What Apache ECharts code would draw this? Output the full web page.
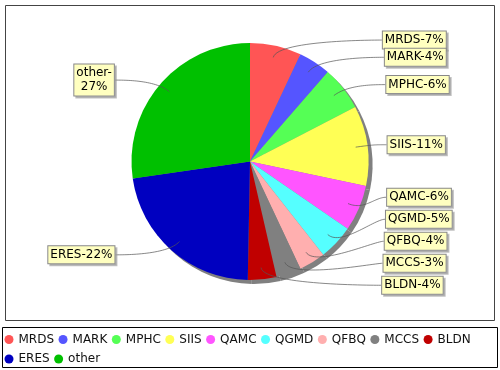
<!DOCTYPE html>
<html><head><meta charset="utf-8">
<script src="https://cdn.jsdelivr.net/npm/echarts@6/dist/echarts.min.js"></script>
<style>html,body{margin:0;padding:0;background:#fff}#c{width:500px;height:370px}</style>
</head><body><div id="c"></div>
<script>
// ---- data ----
const categories = ['MRDS','MARK','MPHC','SIIS','QAMC','QGMD','QFBQ','MCCS','BLDN','ERES','other'];
const shares = [7.0, 4.4, 6.0, 10.9, 6.3, 4.8, 3.6, 3.4, 3.9, 22.4, 27.3];
const colors = ['#FF5555','#5555FF','#55FF55','#FFFF55','#FF55FF','#55FFFF','#FFAFAF','#808080','#C00000','#0000C0','#00C000'];
const wrappedLabels = ['other'];

// ---- geometry / style ----
const CX = 250, CY = 161.5, R = 118.5;
const LINK_R = R * 1.05, LINK_PCT = 0.9, LGAP = 12.2;
const LINE_H = 14, PAD_V = 1.5, PAD_H = 2;
const DIST_H = 16.5, MIN_GAP = 5.5, MIN_Y = 30.2, MAX_Y = 294.8;
const FONT = '"DejaVu Sans", sans-serif';
const LABEL_SERIES = 2;

const total = shares.reduce((a, b) => a + b, 0);
function labelText(i) {
  const pct = Math.round(shares[i] / total * 100);
  return categories[i] + '-' + (wrappedLabels.includes(categories[i]) ? '\n' : '') + pct + '%';
}

// label records (JFreeChart-like distribution)
const recs = [];
let cum = 0;
shares.forEach((v, i) => {
  const mid = (cum + v / 2) / total * 2 * Math.PI; cum += v;
  const theta = Math.PI / 2 - mid;
  const lines = labelText(i).split('\n').length;
  const h = lines === 1 ? DIST_H : lines * LINE_H + PAD_V * 2;
  recs.push({ i, theta, cos: Math.cos(theta), sin: Math.sin(theta),
    baseY: CY - Math.sin(theta) * LINK_R, y: CY - Math.sin(theta) * LINK_R, h, right: Math.cos(theta) >= 0 });
});
function lo(r) { return r.y - r.h / 2; }
function up(r) { return r.y + r.h / 2; }
function isOverlap(l) { let y = -1e9; for (const r of l) { if (y > lo(r)) return true; y = up(r); } return false; }
function distribute(l) {
  l.sort((a, b) => a.baseY - b.baseY);
  if (isOverlap(l)) {
    let a = 0, b = l.length - 1;
    while (b > a) {
      if (a < b - 1) { const r0 = l[a], r1 = l[a + 1]; if (lo(r1) < up(r0)) r1.y += up(r0) - lo(r1) + MIN_GAP; }
      const r2 = l[b - 1], r3 = l[b]; if (up(r2) > lo(r3)) r2.y -= up(r2) - lo(r3) + MIN_GAP;
      a++; b--;
    }
  }
  if (isOverlap(l)) for (let i = 0; i < l.length - 1; i++) { const r0 = l[i], r1 = l[i + 1];
    if (lo(r1) < up(r0)) r1.y = Math.min(MAX_Y - r1.h / 2, up(r0) + MIN_GAP + r1.h / 2); }
  if (isOverlap(l)) for (let i = l.length - 1; i > 0; i--) { const r0 = l[i], r1 = l[i - 1];
    if (up(r1) > lo(r0)) r1.y = Math.max(MIN_Y + r1.h / 2, lo(r0) - MIN_GAP - r1.h / 2); }
}
distribute(recs.filter(r => r.right));
distribute(recs.filter(r => !r.right));

function layoutLabel(p) {
  if (p.seriesIndex !== LABEL_SERIES) return;
  const r = recs[p.dataIndex];
  const w = p.labelRect.width;
  const gap = LGAP / 2 * (1 + Math.abs(r.cos));
  const anchorX = r.right ? CX + LINK_R : CX - LINK_R;
  const tx = r.right ? anchorX + gap : anchorX - gap;
  const ty = r.y;
  const ex = CX + r.cos * LINK_R, ey = CY - r.sin * LINK_R;
  const lx = CX + r.cos * R * LINK_PCT, ly = CY - r.sin * R * LINK_PCT;
  const pts = [], N = 30;
  for (let k = 0; k <= N; k++) {
    const t = k / N, u = 1 - t;
    const x = u*u*u*lx + 3*u*u*t*ex + 3*u*t*t*anchorX + t*t*t*tx;
    const y = u*u*u*ly + 3*u*u*t*ey + 3*u*t*t*ty + t*t*t*ty;
    pts.push([x, y]);
  }
  return { x: r.right ? tx + w / 2 : tx - w / 2, y: ty, align: 'center', verticalAlign: 'middle', labelLinePoints: pts };
}

const pieData = categories.map((c, i) => ({ name: c, value: shares[i] }));
const chart = echarts.init(document.getElementById('c'), null, { renderer: 'canvas' });
chart.setOption({
  animation: false,
  backgroundColor: '#fff',
  color: colors,
  graphic: [
    { type: 'rect', z: 0, shape: { x: 5.5, y: 5.5, width: 489, height: 315 }, style: { fill: 'none', stroke: '#444', lineWidth: 1 } },
    { type: 'rect', z: 0, shape: { x: 2.5, y: 327.5, width: 495, height: 40 }, style: { fill: 'none', stroke: '#000', lineWidth: 1 } }
  ],
  legend: {
    data: categories,
    left: 4.5, top: 332, width: 480,
    padding: 0, itemGap: 4.5, itemWidth: 9, itemHeight: 9, icon: 'circle',
    selectedMode: false,
    textStyle: { fontFamily: FONT, fontSize: 12, color: '#111', lineHeight: 15 }
  },
  series: [
    {
      type: 'pie', z: 3,
      center: [CX, CY], radius: R,
      startAngle: 90, clockwise: true,
      emphasis: { disabled: true },
      itemStyle: { borderWidth: 0 },
      data: pieData,
      label: { show: false }, labelLine: { show: false }
    },
    {
      type: 'pie', z: 1, silent: true,
      center: [CX + 4, CY + 4], radius: R,
      startAngle: 90, clockwise: true,
      emphasis: { disabled: true },
      itemStyle: { color: '#808080', borderWidth: 0 },
      label: { show: false }, labelLine: { show: false },
      data: shares.slice()
    },
    {
      type: 'pie', z: 5, silent: true,
      center: [CX, CY], radius: R,
      startAngle: 90, clockwise: true,
      avoidLabelOverlap: false,
      emphasis: { disabled: true },
      itemStyle: { color: 'rgba(0,0,0,0)', borderWidth: 0 },
      data: shares.slice(),
      label: {
        show: true, position: 'outside',
        formatter: p => labelText(p.dataIndex),
        fontFamily: FONT, fontSize: 12, color: '#000', lineHeight: LINE_H,
        backgroundColor: '#FFFFC0', borderColor: '#888', borderWidth: 1,
        padding: [PAD_V, PAD_H], align: 'center',
        shadowColor: 'rgba(151,151,151,0.6)', shadowOffsetX: 2, shadowOffsetY: 2, shadowBlur: 0
      },
      labelLine: { show: true, length: 10, length2: 10, lineStyle: { color: '#555', width: 0.7 } },
      labelLayout: layoutLabel
    }
  ]
});
</script></body></html>
